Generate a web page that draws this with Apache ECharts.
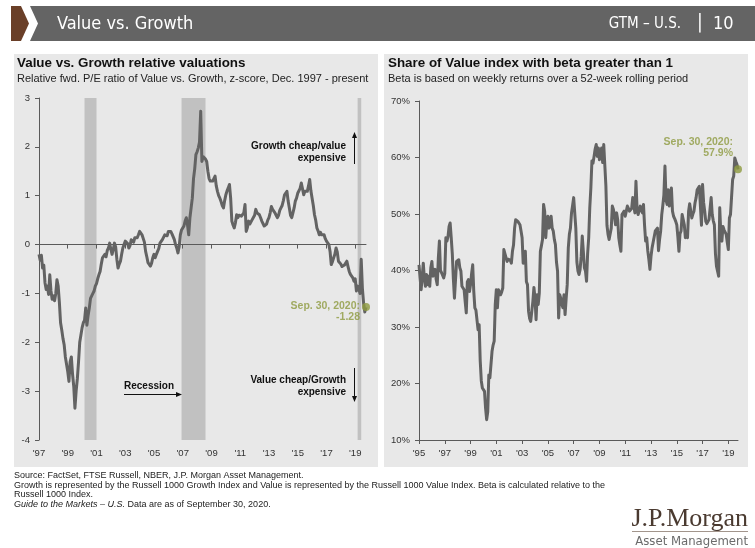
<!DOCTYPE html>
<html>
<head>
<meta charset="utf-8">
<script src="https://cdn.jsdelivr.net/npm/echarts@6/dist/echarts.min.js"></script>
<style>
  html, body { margin: 0; padding: 0; background: #ffffff; }
  #chart { width: 755px; height: 548px; }
</style>
</head>
<body>
<div id="chart"></div>
<script>
// Relative fwd. P/E of Value vs. Growth (z-score), month-end, Dec 1997 - Sep 2020
const relStart = [1997, 12];
const relValues = [
  -0.20,
  -0.32, -0.22, -0.48, -0.42, -0.78, -0.92, -0.85, -1.02, -0.62, -0.95, -1.12, -1.05, // 1998
  -1.15, -1.00, -0.72, -0.85, -1.18, -1.60, -1.75, -1.92, -2.05, -2.30, -2.45, -2.60, // 1999
  -2.80, -2.40, -2.30, -2.65, -2.90, -3.35, -3.00, -2.75, -2.40, -2.00, -1.85, -1.70, // 2000
  -1.60, -1.55, -1.30, -1.65, -1.45, -1.30, -1.10, -1.05, -1.00, -0.95, -0.85, -0.80, // 2001
  -0.70, -0.62, -0.55, -0.40, -0.27, -0.30, -0.20, -0.25, -0.12, -0.07, 0.03, -0.10,  // 2002
  -0.20, -0.10, 0.03, -0.05, -0.30, -0.48, -0.40, -0.34, -0.20, -0.07, 0.00, 0.07,    // 2003
  0.07, 0.02, -0.07, -0.02, 0.10, 0.14, 0.05, 0.14, 0.10, 0.14, 0.20, 0.27,           // 2004
  0.27, 0.20, 0.20, 0.05, -0.14, -0.25, -0.37, -0.40, -0.44, -0.38, -0.27, -0.20,     // 2005
  -0.27, -0.20, -0.14, -0.08, 0.03, 0.00, 0.10, 0.14, 0.20, 0.24, 0.18, 0.27,         // 2006
  0.24, 0.27, 0.22, 0.20, 0.10, 0.00, -0.07, -0.17, -0.05, 0.20, 0.30, 0.34,          // 2007
  0.38, 0.48, 0.55, 0.40, 0.20, 0.55, 0.75, 0.95, 1.35, 1.55, 1.84, 1.90,             // 2008
  1.98, 2.10, 2.73, 1.70, 1.80, 1.84, 1.75, 1.70, 1.50, 1.35, 1.30, 1.28,             // 2009
  1.30, 1.32, 1.40, 1.20, 1.09, 1.00, 0.95, 0.88, 0.80, 0.75, 0.90, 1.02,             // 2010
  1.10, 1.16, 1.23, 0.95, 0.48, 0.40, 0.34, 0.45, 0.61, 0.55, 0.60, 0.61,             // 2011
  0.58, 0.55, 0.65, 0.82, 0.27, 0.35, 0.48, 0.42, 0.45, 0.51, 0.55, 0.60,             // 2012
  0.72, 0.65, 0.68, 0.61, 0.55, 0.48, 0.45, 0.38, 0.34, 0.42, 0.50, 0.55,             // 2013
  0.65, 0.78, 0.72, 0.75, 0.65, 0.60, 0.55, 0.60, 0.70, 0.75, 0.80, 0.90,             // 2014
  1.02, 1.05, 1.09, 0.89, 0.75, 0.60, 0.55, 0.65, 0.75, 0.89, 0.95, 1.05,             // 2015
  1.09, 1.15, 1.26, 1.30, 1.02, 1.09, 1.05, 1.09, 1.20, 1.33, 1.10, 0.95,             // 2016
  0.80, 0.61, 0.50, 0.34, 0.28, 0.20, 0.25, 0.20, 0.18, 0.20, 0.12, 0.07,             // 2017
  0.07, 0.00, -0.14, -0.41, -0.35, -0.27, -0.20, -0.07, -0.15, -0.34, -0.30, -0.40,   // 2018
  -0.45, -0.48, -0.42, -0.40, -0.34, -0.45, -0.55, -0.61, -0.58, -0.68, -0.75, -0.70, // 2019
  -0.95, -0.85, -0.90, -1.00, -0.30, -0.90, -1.20, -1.38, -1.28                       // 2020
];

// Share of Value index members with beta > 1 (%), month-end, Dec 1995 - Sep 2020
const betaStart = [1995, 12];
const betaValues = [
  41.0,
  38.7, 36.6, 39.0, 41.3, 38.5, 37.2, 39.3, 37.5, 39.0, 37.2, 40.5, 41.6, // 1996
  39.0, 38.7, 40.2, 38.4, 37.5, 42.2, 45.2, 40.0, 39.6, 39.3, 38.7, 39.5, // 1997
  45.8, 45.2, 46.0, 47.8, 48.4, 45.8, 43.0, 38.5, 35.1, 38.4, 41.6, 41.9, // 1998
  41.9, 40.5, 39.9, 37.2, 36.9, 36.6, 34.5, 32.5, 38.0, 38.4, 36.3, 37.5, // 1999
  39.5, 41.0, 36.3, 33.4, 33.0, 32.8, 29.5, 30.4, 24.0, 20.5, 19.2, 19.5, // 2000
  18.6, 15.6, 13.6, 15.0, 21.5, 21.0, 21.2, 25.7, 26.8, 27.5, 34.0, 36.6, // 2001
  33.4, 36.6, 36.5, 35.7, 36.2, 36.9, 43.7, 43.0, 42.8, 41.6, 42.0, 42.2, // 2002
  41.8, 41.3, 43.4, 44.5, 47.5, 49.0, 48.8, 48.7, 48.4, 48.1, 47.0, 45.8, // 2003
  41.3, 42.5, 43.4, 38.0, 37.5, 32.8, 31.5, 31.0, 30.7, 34.5, 37.0, 35.1, // 2004
  31.3, 35.7, 34.0, 36.0, 43.4, 44.4, 45.5, 51.7, 50.5, 45.8, 48.5, 49.6, // 2005
  47.5, 48.5, 49.6, 47.5, 47.0, 45.5, 44.6, 41.5, 39.9, 31.6, 35.7, 35.1, // 2006
  34.0, 33.4, 35.7, 32.2, 35.0, 37.5, 44.0, 46.4, 47.5, 50.2, 51.5, 52.9, // 2007
  53.2, 47.5, 41.5, 39.9, 39.3, 40.2, 42.5, 46.1, 43.4, 40.5, 39.9, 38.1, // 2008
  43.0, 45.8, 51.1, 54.6, 59.4, 59.0, 60.2, 61.5, 62.3, 60.2, 61.7, 59.6, // 2009
  60.5, 61.7, 59.1, 62.3, 62.0, 55.0, 48.0, 46.4, 45.5, 45.8, 47.5, 51.4, // 2010
  50.8, 49.5, 48.1, 50.2, 49.0, 45.8, 44.5, 43.4, 49.9, 50.2, 50.5, 49.6, // 2011
  50.5, 51.4, 51.0, 50.5, 50.2, 51.0, 52.9, 51.5, 50.2, 55.8, 51.1, 49.9, // 2012
  50.6, 51.4, 50.8, 50.2, 51.7, 48.0, 45.2, 45.8, 43.5, 42.0, 40.2, 42.5, // 2013
  44.0, 45.0, 45.2, 47.0, 46.8, 47.5, 43.5, 45.5, 47.0, 49.9, 51.5, 53.4, // 2014
  58.5, 52.5, 51.7, 54.3, 51.4, 53.0, 54.6, 50.5, 49.6, 49.2, 48.7, 48.1, // 2015
  46.0, 43.4, 46.5, 47.0, 49.9, 49.0, 48.1, 45.8, 46.2, 45.8, 50.5, 51.8, // 2016
  52.0, 49.3, 50.0, 50.5, 52.0, 52.9, 54.3, 54.0, 54.9, 54.6, 48.0, 55.2, // 2017
  52.0, 50.5, 48.7, 48.3, 48.1, 49.0, 51.0, 52.9, 49.9, 48.8, 48.1, 43.0, // 2018
  40.7, 41.0, 39.0, 51.1, 46.5, 45.2, 47.8, 47.2, 47.0, 46.4, 45.0, 43.7, // 2019
  49.3, 49.9, 53.0, 56.1, 56.7, 59.9, 59.3, 58.8, 57.9                    // 2020
];

// Axis tick labels, one every two years
const relYearLabels = ["'97", "'99", "'01", "'03", "'05", "'07", "'09", "'11", "'13", "'15", "'17", "'19"];
const betaYearLabels = ["'95", "'97", "'99", "'01", "'03", "'05", "'07", "'09", "'11", "'13", "'15", "'17", "'19"];

// Recession shading (start month, end month)
const recessions = [["2001-02", "2001-12"], ["2007-11", "2009-07"], ["2020-02", "2020-05"]];

const lastDateLabel = 'Sep. 30, 2020:';

function monthList(start, n) {
  const out = [];
  let y = start[0], m = start[1];
  for (let i = 0; i < n; i++) {
    out.push(y + '-' + (m < 10 ? '0' + m : '' + m));
    m++;
    if (m > 12) { m = 1; y++; }
  }
  return out;
}

const relCats = monthList(relStart, relValues.length);
const betaCats = monthList(betaStart, betaValues.length);

const SANS = '"Liberation Sans", Arial, Helvetica, sans-serif';
const COND = '"Liberation Sans Narrow", "DejaVu Sans Condensed", Roboto, sans-serif';
const LINE = '#636363';
const AXIS = '#5a5a5a';
const OLIVE = '#8d9a3f';
const PANEL = '#e8e8e8';

const axisText = { color: '#333', fontSize: 9.5, fontFamily: SANS };

function txt(x, y, text, o) {
  o = o || {};
  return {
    type: 'text', x: x, y: y, z: 10, silent: true,
    style: {
      text: text,
      fill: o.fill || '#222',
      fontSize: o.size || 10,
      fontWeight: o.weight || 'normal',
      fontStyle: o.style || 'normal',
      fontFamily: o.family || SANS,
      align: o.align || 'left',
      verticalAlign: o.valign || 'middle',
      textAlign: o.align || 'left',
      textVerticalAlign: o.valign || 'middle',
      lineHeight: o.lineHeight,
      rich: o.rich
    }
  };
}

function arrowV(x, y1, y2) {
  // shaft from y1 to y2, head at y2
  const dir = y2 < y1 ? -1 : 1;
  return [
    { type: 'line', z: 10, silent: true, shape: { x1: x, y1: y1, x2: x, y2: y2 - dir * 5 }, style: { stroke: '#111', lineWidth: 1 } },
    { type: 'polygon', z: 10, silent: true, shape: { points: [[x - 2.5, y2 - dir * 6], [x + 2.5, y2 - dir * 6], [x, y2]] }, style: { fill: '#111' } }
  ];
}
function arrowH(x1, x2, y) {
  return [
    { type: 'line', z: 10, silent: true, shape: { x1: x1, y1: y, x2: x2 - 5, y2: y }, style: { stroke: '#111', lineWidth: 1 } },
    { type: 'polygon', z: 10, silent: true, shape: { points: [[x2 - 6, y - 2.5], [x2 - 6, y + 2.5], [x2, y]] }, style: { fill: '#111' } }
  ];
}

const footRich = { i: { fontStyle: 'italic', fontSize: 9, fontFamily: SANS, fill: '#222' } };

const graphics = [
  // panels
  { type: 'rect', z: -10, silent: true, shape: { x: 14, y: 54, width: 364, height: 413 }, style: { fill: PANEL } },
  { type: 'rect', z: -10, silent: true, shape: { x: 384, y: 54, width: 364, height: 413 }, style: { fill: PANEL } },
  // header band
  { type: 'polygon', z: 1, silent: true, shape: { points: [[11, 6], [21, 6], [29, 23.5], [21, 41], [11, 41]] }, style: { fill: '#6a3f28' } },
  { type: 'polygon', z: 1, silent: true, shape: { points: [[30, 6], [755, 6], [755, 41], [30, 41], [38, 23.5]] }, style: { fill: '#646464' } },
  txt(57, 24, 'Value vs. Growth', { fill: '#ffffff', size: 18, family: COND }),
  txt(681, 24, 'GTM – U.S.', { fill: '#ffffff', size: 15, family: COND, align: 'right' }),
  txt(700, 23, '|', { fill: '#ffffff', size: 19, family: COND, align: 'center' }),
  txt(713, 24, '10', { fill: '#ffffff', size: 18, family: COND }),
  // panel titles
  txt(17, 63, 'Value vs. Growth relative valuations', { fill: '#111', size: 13.4, weight: 'bold' }),
  txt(17, 79, 'Relative fwd. P/E ratio of Value vs. Growth, z-score, Dec. 1997 - present', { fill: '#222', size: 11 }),
  txt(388, 63, 'Share of Value index with beta greater than 1', { fill: '#111', size: 13.4, weight: 'bold' }),
  txt(388, 79, 'Beta is based on weekly returns over a 52-week rolling period', { fill: '#222', size: 11 }),
  // left-chart annotations
  txt(346, 152.5, 'Growth cheap/value\nexpensive', { fill: '#111', size: 10, weight: 'bold', align: 'right', lineHeight: 11.6 }),
  txt(346, 386, 'Value cheap/Growth\nexpensive', { fill: '#111', size: 10, weight: 'bold', align: 'right', lineHeight: 11.6 }),
  txt(124, 386, 'Recession', { fill: '#111', size: 10, weight: 'bold' }),
  // footnotes
  txt(14, 476, 'Source: FactSet, FTSE Russell, NBER, J.P. Morgan Asset Management.', { size: 9 }),
  txt(14, 485.5, 'Growth is represented by the Russell 1000 Growth Index and Value is represented by the Russell 1000 Value Index. Beta is calculated relative to the', { size: 9 }),
  txt(14, 495, 'Russell 1000 Index.', { size: 9 }),
  txt(14, 504.5, '{i|Guide to the Markets – U.S.} Data are as of September 30, 2020.', { size: 9, rich: footRich }),
  // logo
  { type: 'line', z: 9, silent: true, shape: { x1: 632, y1: 531.5, x2: 748, y2: 531.5 }, style: { stroke: '#8a7a6e', lineWidth: 0.8 } },
  txt(748, 519, 'J.P.Morgan', { fill: '#4a3a30', size: 26, family: '"Liberation Serif", "DejaVu Serif", serif', align: 'right' }),
  txt(748, 541.5, 'Asset Management', { fill: '#6b6b6b', size: 13, family: COND, align: 'right' })
].concat(arrowV(354.5, 164, 132), arrowV(354.5, 368, 402), arrowH(124, 182, 394.5));

const option = {
  animation: false,
  backgroundColor: '#ffffff',
  grid: [
    { left: 39, top: 98, width: 327, height: 342, containLabel: false },
    { left: 419, top: 101, width: 319, height: 339, containLabel: false }
  ],
  xAxis: [
    { // left chart: year labels along the bottom
      type: 'category', gridIndex: 0, data: relCats, boundaryGap: false,
      position: 'bottom', axisLine: { show: false, onZero: false }, axisTick: { show: false },
      axisLabel: Object.assign({ interval: 23, margin: 8, formatter: (v, i) => relYearLabels[i / 24] }, axisText),
      splitLine: { show: false }
    },
    { // left chart: zero line with ticks
      type: 'category', gridIndex: 0, data: relCats, boundaryGap: false, z: 2,
      position: 'bottom',
      axisLine: { show: true, onZero: true, lineStyle: { color: AXIS, width: 1 } },
      axisTick: { show: true, interval: 23, length: 4, lineStyle: { color: AXIS } },
      axisLabel: { show: false }, splitLine: { show: false }
    },
    { // right chart
      type: 'category', gridIndex: 1, data: betaCats, boundaryGap: false,
      position: 'bottom',
      axisLine: { show: true, onZero: false, lineStyle: { color: AXIS, width: 1 } },
      axisTick: { show: true, interval: 23, length: 4, lineStyle: { color: AXIS } },
      axisLabel: Object.assign({ interval: 23, margin: 8, formatter: (v, i) => betaYearLabels[i / 24] }, axisText),
      splitLine: { show: false }
    }
  ],
  yAxis: [
    {
      type: 'value', gridIndex: 0, min: -4, max: 3, interval: 1,
      axisLine: { show: true, lineStyle: { color: AXIS, width: 1 } },
      axisTick: { show: true, length: 4, lineStyle: { color: AXIS } },
      axisLabel: Object.assign({ margin: 9 }, axisText),
      splitLine: { show: false }
    },
    {
      type: 'value', gridIndex: 1, min: 10, max: 70, interval: 10,
      axisLine: { show: true, lineStyle: { color: AXIS, width: 1 } },
      axisTick: { show: true, length: 4, lineStyle: { color: AXIS } },
      axisLabel: Object.assign({ margin: 9, formatter: '{value}%' }, axisText),
      splitLine: { show: false }
    }
  ],
  series: [
    { // recession shading
      name: 'Recession', type: 'line', xAxisIndex: 0, yAxisIndex: 0, data: [], z: 1, silent: true,
      markArea: {
        silent: true,
        itemStyle: { color: '#c1c1c1' },
        data: recessions.map(r => [{ xAxis: r[0] }, { xAxis: r[1] }])
      }
    },
    {
      name: 'Value vs. Growth', type: 'line', xAxisIndex: 0, yAxisIndex: 0, z: 3,
      data: relValues, symbol: 'none', smooth: false,
      lineStyle: { color: LINE, width: 3, join: 'round' }
    },
    {
      type: 'scatter', xAxisIndex: 0, yAxisIndex: 0, z: 4,
      data: [[relCats[relCats.length - 1], relValues[relValues.length - 1]]],
      symbolSize: 8, itemStyle: { color: OLIVE },
      label: {
        show: true, position: 'left', distance: 5, offset: [3, 5], align: 'right',
        color: OLIVE, fontSize: 10.5, fontWeight: 'bold', fontFamily: SANS, lineHeight: 11,
        formatter: p => lastDateLabel + '\n' + p.value[1].toFixed(2)
      }
    },
    {
      name: 'Share of Value index with beta > 1', type: 'line', xAxisIndex: 2, yAxisIndex: 1, z: 3,
      data: betaValues, symbol: 'none', smooth: false,
      lineStyle: { color: LINE, width: 3, join: 'round' }
    },
    {
      type: 'scatter', xAxisIndex: 2, yAxisIndex: 1, z: 4,
      data: [[betaCats[betaCats.length - 1], betaValues[betaValues.length - 1]]],
      symbolSize: 8, itemStyle: { color: OLIVE },
      label: {
        show: true, position: 'left', distance: 5, offset: [4, -22], align: 'right',
        color: OLIVE, fontSize: 10.5, fontWeight: 'bold', fontFamily: SANS, lineHeight: 11.5,
        formatter: p => lastDateLabel + '\n' + p.value[1].toFixed(1) + '%'
      }
    }
  ],
  graphic: { elements: graphics }
};

const chart = echarts.init(document.getElementById('chart'), null, { renderer: 'canvas' });
chart.setOption(option);
</script>
</body>
</html>
